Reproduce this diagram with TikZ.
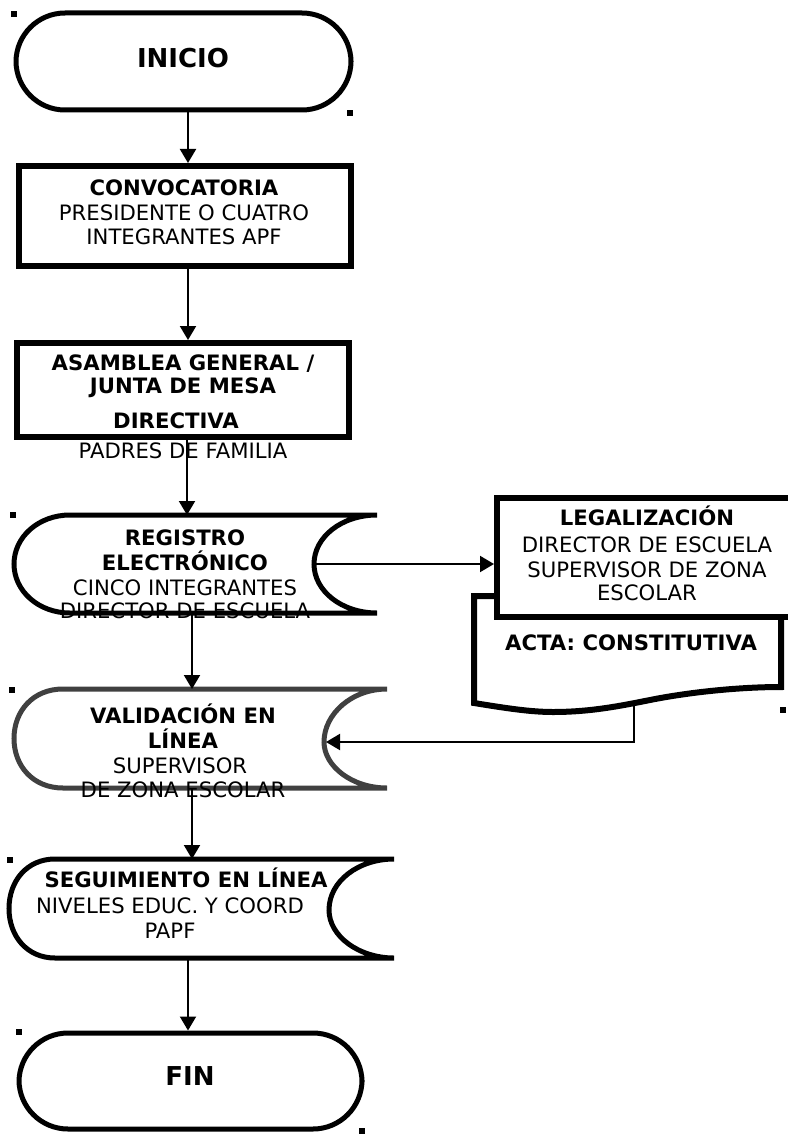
\documentclass[tikz,border=0pt]{standalone}
\usepackage{fontspec}
\setmainfont{DejaVu Sans}
\usetikzlibrary{arrows.meta}
\definecolor{valgray}{RGB}{64,64,64}
\begin{document}
\begin{tikzpicture}[x=1pt,y=-1pt,
  conn/.style={line width=2pt,-{Triangle[length=14pt,width=16pt]}},
  boxline/.style={line width=6pt},
  shapeline/.style={line width=5pt},
  term/.style={draw,line width=5pt,rounded corners=49pt,inner sep=0pt},
  rbox/.style={draw,fill=white,line width=6pt,inner sep=0pt},
  tb/.style={anchor=base,inner sep=0pt,font=\fontsize{21.2}{25}\selectfont\bfseries},
  tr/.style={anchor=base,inner sep=0pt,font=\fontsize{21.2}{25}\selectfont},
  tt/.style={anchor=base,inner sep=0pt,font=\fontsize{26}{30}\selectfont\bfseries},
  mk/.style={fill=black,minimum size=5.5pt,inner sep=0pt}]

\useasboundingbox (0,0) rectangle (787,1134);

% ---------- INICIO ----------
\node[term,minimum width=335pt,minimum height=97pt] (inicio) at (183.5,61.5) {};
\node[tt] (inicio-t) at (183,68) {INICIO};

% ---------- CONVOCATORIA ----------
\node[rbox,minimum width=332pt,minimum height=100pt] (conv) at (185,216) {};
\node[tb] (conv-t1) at (184,195) {CONVOCATORIA};
\node[tr] (conv-t2) at (184,220) {PRESIDENTE O CUATRO};
\node[tr] (conv-t3) at (184,244) {INTEGRANTES APF};

% ---------- ASAMBLEA ----------
\node[rbox,minimum width=332pt,minimum height=94pt] (asam) at (183,390) {};

% ---------- REGISTRO (stored data) ----------
\draw[shapeline,fill=white] (377,515) -- (70,515)
  .. controls (38.5,515) and (14,537) .. (14,564)
  .. controls (14,591) and (38.5,613) .. (70,613) -- (377,613)
  .. controls (341.7,613) and (314,591) .. (314,564)
  .. controls (314,537) and (341.7,515) .. (377,515);
\coordinate (reg-top) at (187,515);
\coordinate (reg-bot) at (192,613);
\coordinate (reg-east) at (314,564);

% ---------- VALIDACION (stored data, gray) ----------
\draw[shapeline,draw=valgray,fill=white] (387,689) -- (63,689)
  .. controls (33,689) and (14,711) .. (14,738.5)
  .. controls (14,766) and (33,788) .. (63,788) -- (387,788)
  .. controls (351.7,788) and (324,766) .. (324,742)
  .. controls (324,714) and (351.7,689) .. (387,689);
\coordinate (val-top) at (192,689);
\coordinate (val-bot) at (192,788);
\coordinate (val-east) at (326,742);

% ---------- SEGUIMIENTO (stored data) ----------
\draw[shapeline,fill=white] (394,859) -- (55,859)
  .. controls (27,859) and (9,881) .. (9,908.5)
  .. controls (9,936) and (27,958) .. (55,958) -- (394,958)
  .. controls (358.7,958) and (329,936) .. (329,910)
  .. controls (329,881) and (358.7,859) .. (394,859);
\coordinate (seg-top) at (192,859);
\coordinate (seg-bot) at (188,958);

% ---------- FIN ----------
\node[term,minimum width=343pt,minimum height=96pt] (fin) at (190.5,1081) {};
\node[tt] (fin-t) at (190,1085) {FIN};

% ---------- ACTA (document) ----------
\draw[boxline,fill=white] (500,596) -- (474,596) -- (474,703)
  .. controls (505,708) and (530,712) .. (553,712)
  .. controls (590,712) and (620,706) .. (650,700)
  .. controls (690,692) and (740,687) .. (781,687) -- (781,610);
\coordinate (doc-bot) at (634,705);
\node[tb] (acta-t) at (631,650) {ACTA: CONSTITUTIVA};

% ---------- LEGALIZACION ----------
\node[rbox,minimum width=296pt,minimum height=119pt] (leg) at (645,557.5) {};
\node[tb] (leg-t1) at (647,525) {LEGALIZACIÓN};
\node[tr] (leg-t2) at (647,552) {DIRECTOR DE ESCUELA};
\node[tr] (leg-t3) at (647,577) {SUPERVISOR DE ZONA};
\node[tr] (leg-t4) at (647,600) {ESCOLAR};

% ---------- connectors ----------
\draw[conn] (inicio.south -| 188,0) -- (conv.north -| 188,0);
\draw[conn] (conv.south -| 188,0) -- (asam.north -| 188,0);
\draw[conn] (asam.south -| 187,0) -- (reg-top);
\draw[conn] (reg-bot) -- (val-top);
\draw[conn] (val-bot) -- (seg-top);
\draw[conn] (seg-bot) -- (fin.north -| 188,0);
\draw[conn] (reg-east) -- (leg.west |- reg-east);
\draw[conn] (doc-bot) |- (val-east);

% ---------- texts ----------
\node[tb] (asam-t1) at (183,370) {ASAMBLEA GENERAL /};
\node[tb] (asam-t2) at (183,393) {JUNTA DE MESA};
\node[tb] (asam-t3) at (176,428) {DIRECTIVA};
\node[tr] (asam-t4) at (183,458) {PADRES DE FAMILIA};

\node[tb] (reg-t1) at (185,545) {REGISTRO};
\node[tb] (reg-t2) at (185,570) {ELECTRÓNICO};
\node[tr] (reg-t3) at (185,595) {CINCO INTEGRANTES};
\node[tr] (reg-t4) at (185,618) {DIRECTOR DE ESCUELA};

\node[tb] (val-t1) at (183,723) {VALIDACIÓN EN};
\node[tb] (val-t2) at (183,748) {LÍNEA};
\node[tr] (val-t3) at (180,773) {SUPERVISOR};
\node[tr] (val-t4) at (183,797) {DE ZONA ESCOLAR};

\node[tb] (seg-t1) at (186,887) {SEGUIMIENTO EN LÍNEA};
\node[tr] (seg-t2) at (170,913) {NIVELES EDUC. Y COORD};
\node[tr] (seg-t3) at (170,938) {PAPF};

% ---------- corner markers ----------
\node[mk] (m1) at (14,14) {};
\node[mk] (m2) at (350,113) {};
\node[mk] (m3) at (13,515) {};
\node[mk] (m4) at (12,690) {};
\node[mk] (m5) at (10,860) {};
\node[mk] (m6) at (19,1032) {};
\node[mk] (m7) at (362,1131) {};
\node[mk] (m8) at (783,710) {};
\end{tikzpicture}
\end{document}
